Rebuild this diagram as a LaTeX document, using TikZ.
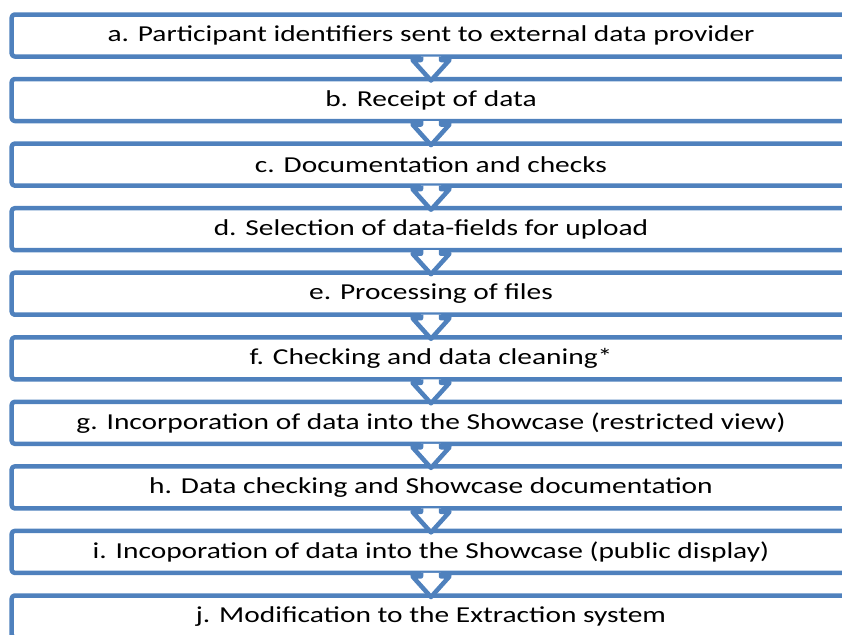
\documentclass[tikz,border=0pt]{standalone}
\usepackage{fontspec}
\setmainfont{Carlito}[FakeStretch=1.29]
\usepackage{tikz}
\usetikzlibrary{positioning}

\definecolor{boxblue}{RGB}{79,129,189}

\begin{document}
\begin{tikzpicture}
[x=0.5pt,y=-0.5pt,line join=round,
  process node/.style={minimum width=419.3pt,minimum height=21pt,inner sep=0pt,outer sep=0pt,
    font=\fontsize{11.4}{13}\selectfont},
  frame line/.style={draw=boxblue,line width=2.25pt,rounded corners=1.5pt},
  down arrow/.style={draw=boxblue,line width=2.25pt,fill=white}]

  \useasboundingbox (0,0) rectangle (842,634);

  \node [process node] (a) at (431,35.5)  {a. Participant identifiers sent to external data provider};
  \node [process node] (b) at (431,100.0) {b. Receipt of data};
  \node [process node] (c) at (431,164.6) {c. Documentation and checks};
  \node [process node] (d) at (431,229.2) {d. Selection of data-fields for upload};
  \node [process node] (e) at (431,293.7) {e. Processing of files};
  \node [process node] (f) at (431,358.3) {f. Checking and data cleaning*};
  \node [process node] (g) at (431,422.8) {g. Incorporation of data into the Showcase (restricted view)};
  \node [process node] (h) at (431,487.4) {h. Data checking and Showcase documentation};
  \node [process node] (i) at (431,551.9) {i. Incoporation of data into the Showcase (public display)};
  \node [process node] (j) at (431,616.5) {j. Modification to the Extraction system};

  % frames (they run on past the right edge)
  \foreach \n in {a,b,c,d,e,f,g,h,i,j}
    \draw [frame line] (\n.north west) rectangle ([xshift=30]\n.south east);

  % block arrows between the steps
  \foreach \from/\to in {a/b,b/c,c/d,d/e,e/f,f/g,g/h,h/i,i/j}
    \draw [down arrow] ([shift={(-10,0)}]\from.south) -- ([shift={(-10,3.5)}]\from.south)
      -- ([shift={(-18.5,3.5)}]\from.south) -- ([shift={(0,1.5)}]\to.north)
      -- ([shift={(18.5,3.5)}]\from.south) -- ([shift={(10,3.5)}]\from.south)
      -- ([shift={(10,0)}]\from.south);

\end{tikzpicture}
\end{document}
